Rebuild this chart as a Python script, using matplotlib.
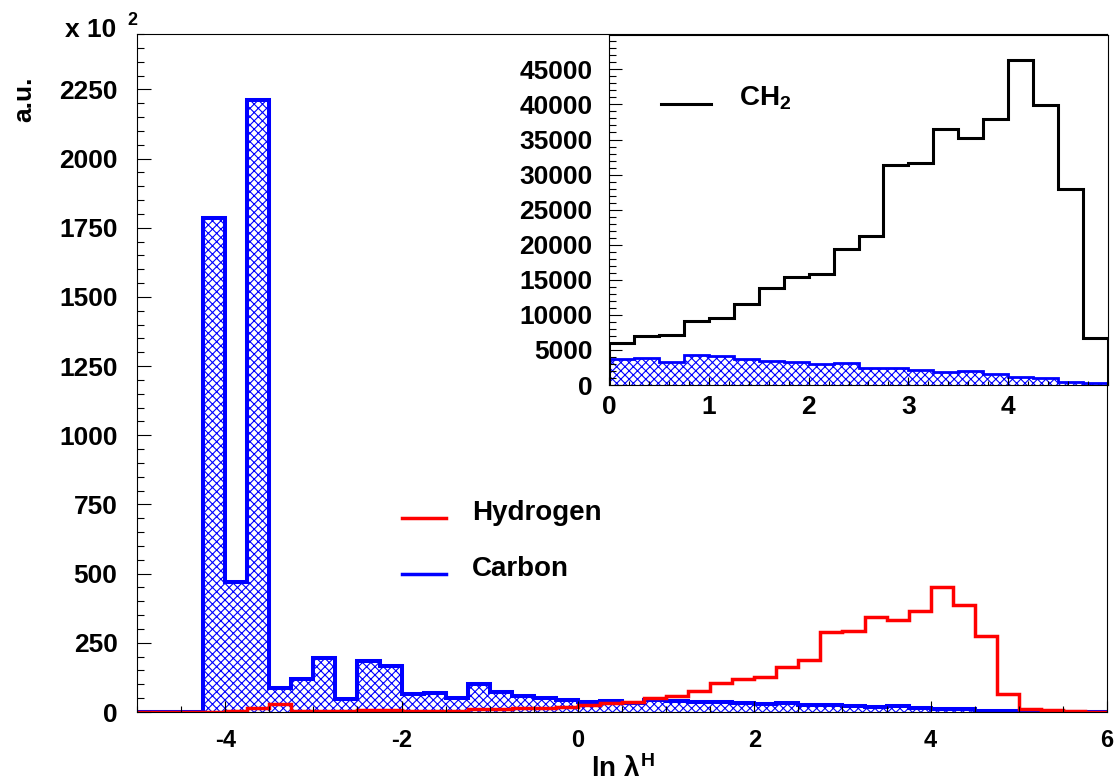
import numpy as np
import matplotlib
matplotlib.use('Agg')
import matplotlib.pyplot as plt
from matplotlib.ticker import MultipleLocator, FixedLocator
from matplotlib.lines import Line2D

plt.rcParams['font.family'] = ['Liberation Sans', 'DejaVu Sans']
plt.rcParams['font.weight'] = 'bold'
plt.rcParams['mathtext.fontset'] = 'custom'
plt.rcParams['mathtext.rm'] = 'Liberation Sans:bold'
plt.rcParams['mathtext.it'] = 'Liberation Sans:bold'
plt.rcParams['mathtext.bf'] = 'Liberation Sans:bold'
plt.rcParams['axes.unicode_minus'] = False
plt.rcParams['hatch.linewidth'] = 0.8

# main histograms: bins of 0.25 from -5 to 6, counts in units of 10^2
edges = np.arange(-5.0, 6.001, 0.25)
carbon = [0, 0, 0, 1785, 470, 2210, 86, 118, 196, 48, 185, 165,
          65, 70, 49, 101, 72, 58, 52, 43,
          37, 39, 33, 43, 41, 37, 35, 33, 30, 31, 25, 24, 21, 19, 20, 15, 12, 10.5, 4.8, 3.3,
          0, 0, 0, 0]
hydrogen = [0, 0, 0, 0, 2, 16, 30, 3, 3, 3, 6, 7,
            5, 5, 5, 10, 10, 14, 16, 18,
            24, 31, 37, 49, 58, 77, 104, 120, 128, 161, 187, 290, 294, 342, 332, 364, 453, 388, 276, 64,
            12, 7, 2, 1]

# inset: bins of 0.25 from 0 to 5
edges_in = np.arange(0.0, 5.001, 0.25)
ch2 = [5950, 7050, 7140, 9140, 9620, 11570, 13810, 15330, 15860, 19430,
       21190, 31430, 31620, 36430, 35240, 37860, 46290, 39860, 28000, 6760]
carbon_in = [3710, 3900, 3290, 4290, 4140, 3710, 3480, 3290, 3000, 3140,
             2480, 2380, 2140, 1900, 2000, 1520, 1190, 1050, 480, 330]

W, H = 1115, 783
def fx(x):
    return x / W
def fy(y):
    return 1 - y / H

fig = plt.figure(figsize=(W / 100, H / 100), dpi=100)

ax = fig.add_axes([fx(137), fy(712), fx(1107) - fx(137), fy(34) - fy(712)])
ax.stairs(carbon, edges, fill=True, facecolor='none', edgecolor='blue', hatch='xxxx', linewidth=0)
ax.stairs(carbon, edges, baseline=0, color='blue', linewidth=2.9)
ax.stairs(hydrogen, edges, baseline=0, color='red', linewidth=2.5)
ax.set_xlim(-5, 6)
ax.set_ylim(0, 2450)
ax.xaxis.set_major_locator(MultipleLocator(2))
ax.xaxis.set_minor_locator(MultipleLocator(0.5))
ax.yaxis.set_major_locator(MultipleLocator(250))
ax.yaxis.set_minor_locator(MultipleLocator(50))
ax.tick_params(which='both', direction='in', top=False, right=False, width=0.8)
ax.tick_params(axis='y', which='major', length=10, pad=14, labelsize=19)
ax.tick_params(axis='y', which='minor', length=5)
ax.tick_params(axis='x', which='major', length=8, pad=12, labelsize=17)
ax.tick_params(axis='x', which='minor', length=4)
for s in ax.spines.values():
    s.set_linewidth(0.8)

# legend of main plot
fig.add_artist(Line2D([fx(402), fx(446)], [fy(518), fy(518)], color='red', lw=2.5))
fig.text(fx(472), fy(520), 'Hydrogen', va='baseline', fontsize=20)
fig.add_artist(Line2D([fx(402), fx(446)], [fy(574), fy(574)], color='blue', lw=2.5))
fig.text(fx(472), fy(576), 'Carbon', va='baseline', fontsize=20)

# axis titles
fig.text(fx(623), fy(777), r'ln $\lambda^{H}$', ha='center', va='baseline', fontsize=20)
fig.text(fx(24), fy(76), 'a.u.', rotation=90, ha='center', va='top', fontsize=19)
fig.text(fx(65), fy(37), 'x 10', va='baseline', fontsize=19)
fig.text(fx(127), fy(25), '2', va='baseline', fontsize=13)

# inset
axin = fig.add_axes([fx(609), fy(385), fx(1108) - fx(609), fy(35) - fy(385)])
axin.stairs(carbon_in, edges_in, fill=True, facecolor='none', edgecolor='blue', hatch='xxxx', linewidth=0)
axin.stairs(carbon_in, edges_in, baseline=0, color='blue', linewidth=2)
axin.stairs(ch2, edges_in, baseline=0, color='black', linewidth=2.2)
axin.set_xlim(0, 5)
axin.set_ylim(0, 49900)
axin.xaxis.set_major_locator(FixedLocator([0, 1, 2, 3, 4]))
axin.xaxis.set_minor_locator(MultipleLocator(0.2))
axin.yaxis.set_major_locator(MultipleLocator(5000))
axin.yaxis.set_minor_locator(MultipleLocator(1000))
axin.tick_params(which='both', direction='in', top=False, right=False, width=0.8)
axin.tick_params(axis='y', which='major', length=9.5, pad=12, labelsize=19)
axin.tick_params(axis='y', which='minor', length=5)
axin.tick_params(axis='x', which='major', length=6, pad=7, labelsize=19)
axin.tick_params(axis='x', which='minor', length=3)
for s in axin.spines.values():
    s.set_linewidth(0.8)

fig.add_artist(Line2D([fx(661), fx(711)], [fy(104), fy(104)], color='black', lw=2.2))
fig.text(fx(739), fy(106), 'CH$_2$', va='baseline', fontsize=20)

fig.savefig('out.png', dpi=100)
